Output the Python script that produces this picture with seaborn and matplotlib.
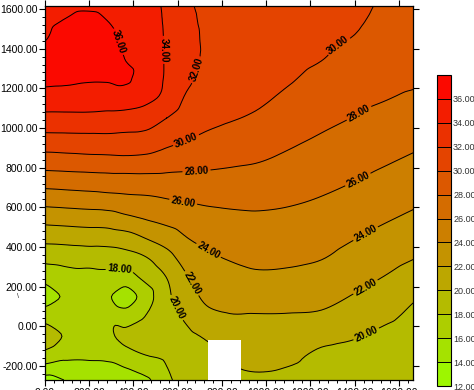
import numpy as np
import matplotlib
matplotlib.use("Agg")
import matplotlib.pyplot as plt
import matplotlib.tri as mtri
import seaborn as sns
from matplotlib.colors import LinearSegmentedColormap
from matplotlib.ticker import MultipleLocator, FormatStrFormatter
from matplotlib.patches import Rectangle

# ---- grid sample positions (data units) ----
x_pos = [0, 100, 200, 280, 365, 460, 550, 640, 730, 820, 950, 1100, 1250, 1400, 1550, 1665]
y_pos = [-270, -150, -50, 50, 150, 250, 350, 450, 550, 650, 750, 850, 950, 1050,
         1150, 1250, 1350, 1450, 1550, 1615]

# ---- grid values, one list per x column (bottom -> top) ----
z_x0000 = [13.3, 17.2, 19.0, 17.3, 15.0, 16.8, 18.67, 20.69, 22.82, 25.03, 27.2, 29.39, 31.46, 33.45, 35.13, 36.5, 36.8, 35.9, 35.5, 35.2]
z_x0100 = [14.1, 16.4, 17.8, 17.0, 16.3, 17.36, 18.79, 20.83, 22.96, 25.19, 27.31, 29.52, 31.5, 33.48, 35.06, 36.4, 36.9, 36.8, 36.05, 35.6]
z_x0200 = [14.6, 16.3, 17.3, 17.2, 16.6, 17.4, 18.94, 20.98, 23.1, 25.34, 27.41, 29.65, 31.55, 33.5, 34.99, 36.2, 36.8, 37.0, 36.4, 35.7]
z_x0280 = [14.6, 16.4, 17.7, 17.6, 16.3, 17.5, 19.0, 21.0, 23.2, 25.5, 27.5, 29.7, 31.6, 33.4, 34.95, 36.2, 36.7, 36.6, 35.95, 35.5]
z_x0365 = [14.6, 17.23, 18.4, 17.03, 15.0, 17.36, 19.28, 21.29, 23.7, 25.68, 27.54, 29.79, 31.49, 33.3, 34.94, 36.3, 35.95, 35.5, 35.2, 35.0]
z_x0460 = [15.7, 17.95, 18.6, 18.1, 17.2, 18.6, 20.03, 22.19, 24.25, 25.83, 27.59, 29.67, 31.36, 32.95, 34.4, 34.9, 35.1, 35.1, 35.0, 34.9]
z_x0550 = [17.6, 18.31, 18.74, 19.16, 19.59, 20.06, 21.33, 22.99, 24.71, 26.09, 27.6, 29.24, 30.7, 32.0, 33.5, 33.8, 33.85, 33.8, 33.7, 33.6]
z_x0640 = [18.7, 19.0, 19.55, 20.34, 21.1, 21.86, 22.9, 24.0, 25.12, 26.29, 27.6, 28.9, 30.14, 30.95, 31.75, 32.4, 32.8, 32.8, 32.6, 32.4]
z_x0730 = [19.3, 19.6, 20.18, 21.46, 22.38, 23.03, 23.69, 24.49, 25.43, 26.45, 27.6, 28.67, 29.7, 30.5, 31.0, 31.4, 31.7, 31.7, 31.6, 31.5]
z_x0820 = [19.5, 19.9, 20.92, 21.84, 22.62, 23.36, 24.1, 24.87, 25.64, 26.5, 27.54, 28.47, 29.35, 30.2, 30.8, 31.2, 31.5, 31.6, 31.6, 31.5]
z_x0950 = [19.7, 20.57, 21.22, 21.88, 22.77, 23.7, 24.45, 25.1, 25.76, 26.55, 27.4, 28.23, 28.99, 29.76, 30.4, 30.9, 31.2, 31.4, 31.5, 31.4]
z_x1100 = [19.5, 20.38, 21.12, 21.86, 22.73, 23.64, 24.38, 25.0, 25.65, 26.32, 27.02, 27.73, 28.39, 29.0, 29.63, 30.2, 30.6, 30.9, 31.05, 31.0]
z_x1250 = [19.0, 19.6, 20.56, 21.7, 22.58, 23.35, 24.1, 24.72, 25.34, 25.96, 26.59, 27.22, 27.85, 28.42, 28.96, 29.49, 30.05, 30.3, 30.5, 30.5]
z_x1400 = [18.5, 19.3, 20.13, 21.0, 21.86, 22.62, 23.36, 24.09, 24.77, 25.45, 26.12, 26.73, 27.33, 27.94, 28.45, 28.99, 29.48, 29.93, 30.2, 30.3]
z_x1550 = [18.6, 19.0, 19.5, 20.29, 21.09, 21.88, 22.65, 23.42, 24.17, 24.87, 25.57, 26.23, 26.83, 27.44, 28.04, 28.5, 28.95, 29.3, 29.6, 29.75]
z_x1665 = [18.3, 18.8, 19.2, 19.6, 20.23, 21.18, 22.11, 22.91, 23.71, 24.44, 25.14, 25.83, 26.48, 27.1, 27.74, 28.3, 28.7, 29.0, 29.3, 29.4]

levels = [12, 14, 16, 18, 20, 22, 24, 26, 28, 30, 32, 34, 36, 38]
cbar_ticks = [12, 14, 16, 18, 20, 22, 24, 26, 28, 30, 32, 34, 36]
x_ticks = [0, 200, 400, 600, 800, 1000, 1200, 1400, 1600]
y_ticks = [-200, 0, 200, 400, 600, 800, 1000, 1200, 1400, 1600]

# blanked (no-data) region
blank_x = [735, 886]
blank_top = -66

# contour label anchor points
label_points = [(320, 1430), (542, 1394), (685, 1293), (1334, 1394), (640, 932),
                (685, 781), (1415, 1083), (625, 630), (1415, 739), (745, 391),
                (1447, 472), (660, 215), (1447, 202), (595, 94), (1454, -42),
                (338, 296)]

low_color = (0.60, 1.00, 0.00)
high_color = (1.00, 0.00, 0.00)

sns.set_theme(style="ticks")
plt.rcParams['font.family'] = ['Liberation Sans', 'DejaVu Sans']

Z = np.column_stack([z_x0000, z_x0100, z_x0200, z_x0280, z_x0365, z_x0460, z_x0550,
                     z_x0640, z_x0730, z_x0820, z_x0950, z_x1100, z_x1250, z_x1400,
                     z_x1550, z_x1665])
XX, YY = np.meshgrid(np.array(x_pos, float), np.array(y_pos, float))

# smooth rendering of the gridded surface (library-side refinement)
tri = mtri.Triangulation(XX.ravel(), YY.ravel())
interp = mtri.CubicTriInterpolator(tri, Z.ravel(), kind='geom')
refiner = mtri.UniformTriRefiner(tri)
tri_f, z_f = refiner.refine_field(Z.ravel(), triinterpolator=interp, subdiv=3)

cmap = LinearSegmentedColormap.from_list("lime_red", [low_color, high_color])

fig = plt.figure(figsize=(4.74, 3.90), dpi=100)
ax = fig.add_axes([45 / 474, 10 / 390, 368.3 / 474, 374 / 390])

cf = ax.tricontourf(tri_f, z_f, levels=levels, cmap=cmap, vmin=levels[0], vmax=levels[-1])
cs = ax.tricontour(tri_f, z_f, levels=levels, colors='black', linewidths=0.7)
texts = ax.clabel(cs, manual=label_points, fmt='%.2f', fontsize=7, inline=True,
                  inline_spacing=2)
for t in texts:
    t.set_fontweight('bold')

ax.add_patch(Rectangle((blank_x[0], y_pos[0]), blank_x[1] - blank_x[0],
                       blank_top - y_pos[0], facecolor='white', edgecolor='none',
                       zorder=5))

ax.set_xlim(x_pos[0], x_pos[-1])
ax.set_ylim(y_pos[0], y_pos[-1])
ax.set_xticks(x_ticks)
ax.set_yticks(y_ticks)
ax.xaxis.set_minor_locator(MultipleLocator(40))
ax.yaxis.set_minor_locator(MultipleLocator(40))
ax.xaxis.set_major_formatter(FormatStrFormatter('%.2f'))
ax.yaxis.set_major_formatter(FormatStrFormatter('%.2f'))
ax.tick_params(which='major', direction='out', length=4.5, width=0.8, color='black',
               labelsize=7.5, pad=1, top=True, right=True, labeltop=False,
               labelright=False, labelcolor='black')
ax.tick_params(which='minor', direction='out', length=2.5, width=0.7, color='black',
               top=False, right=False, bottom=True, left=True)
for s in ax.spines.values():
    s.set_color('black')
    s.set_linewidth(0.9)

cax = fig.add_axes([437 / 474, 4 / 390, 14 / 474, 311 / 390])
cb = fig.colorbar(cf, cax=cax, ticks=cbar_ticks, drawedges=True, format='%.2f')
cb.outline.set_edgecolor('black')
cb.outline.set_linewidth(0.8)
cb.dividers.set_color('black')
cb.dividers.set_linewidth(0.7)
cb.ax.tick_params(length=0, pad=1.5, labelsize=6.5, labelcolor='#333333')
for lab in cb.ax.get_yticklabels():
    lab.set_family(['Liberation Sans Narrow', 'Liberation Sans', 'DejaVu Sans'])

fig.text(18 / 474, 1 - 297 / 390, '\\', fontsize=5, ha='center', va='center')

fig.savefig('out.png', dpi=100)
